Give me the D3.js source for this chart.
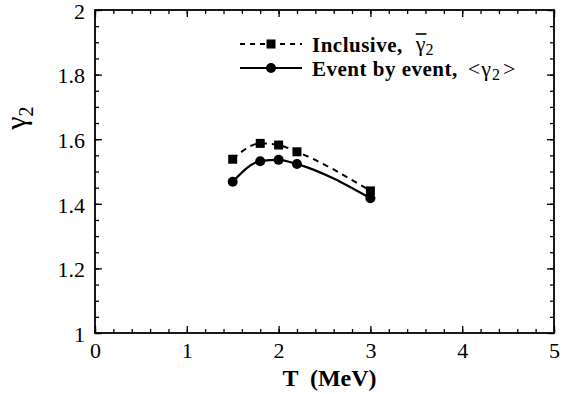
<!DOCTYPE html>
<html>
<head>
<meta charset="utf-8">
<script src="https://cdn.jsdelivr.net/npm/d3@7"></script>
<style>
  body { margin: 0; background: #fff; }
  svg text { font-family: "Liberation Serif", "Times New Roman", serif; fill: #000; }
</style>
</head>
<body>
<div id="chart"></div>
<script>
// data
const temps = [1.5, 1.8, 2.0, 2.2, 3.0];
const inclusive = [1.538, 1.587, 1.582, 1.561, 1.440];
const eventByEvent = [1.468, 1.532, 1.536, 1.523, 1.417];
const xTicks = [0, 1, 2, 3, 4, 5];
const yTicks = [1, 1.2, 1.4, 1.6, 1.8, 2];

const SERIF = "Liberation Serif, Times New Roman, serif";

const W = 563, H = 394;
const margin = {top: 10, right: 9, bottom: 61, left: 95};
const width = W - margin.left - margin.right;
const height = H - margin.top - margin.bottom;

const svg = d3.select("#chart").append("svg")
    .attr("width", W)
    .attr("height", H);

const g = svg.append("g")
    .attr("transform", "translate(" + margin.left + "," + margin.top + ")");

const x = d3.scaleLinear().domain([0, 5]).range([0, width]);
const y = d3.scaleLinear().domain([1, 2]).range([height, 0]);

// minor ticks
const xMinor = d3.range(0, 5.001, 0.2);
const yMinor = d3.range(1, 2.001, 0.05);

function tickStyle(sel) {
    sel.attr("font-family", SERIF);
    sel.select(".domain").remove();
    sel.selectAll(".tick line").attr("stroke", "#000").attr("stroke-width", 1.3);
}

// bottom
g.append("g").attr("transform", "translate(0," + height + ")")
    .call(d3.axisBottom(x).tickValues(xMinor).tickSize(-4).tickFormat(""))
    .call(tickStyle);
g.append("g").attr("transform", "translate(0," + height + ")")
    .call(d3.axisBottom(x).tickValues(xTicks).tickSize(-7).tickPadding(9).tickFormat(d3.format("d")))
    .call(tickStyle)
    .selectAll("text").attr("font-size", 22).attr("dy", "0.71em").attr("font-family", SERIF);
// top
g.append("g")
    .call(d3.axisTop(x).tickValues(xMinor).tickSize(-4).tickFormat(""))
    .call(tickStyle);
g.append("g")
    .call(d3.axisTop(x).tickValues(xTicks).tickSize(-7).tickFormat(""))
    .call(tickStyle);
// left
g.append("g")
    .call(d3.axisLeft(y).tickValues(yMinor).tickSize(-4).tickFormat(""))
    .call(tickStyle);
g.append("g")
    .call(d3.axisLeft(y).tickValues(yTicks).tickSize(-7).tickPadding(10).tickFormat(d => d === 1 || d === 2 ? d : d3.format(".1f")(d)))
    .call(tickStyle)
    .selectAll("text").attr("font-size", 22).attr("dy", "0.38em").attr("font-family", SERIF);
// right
g.append("g").attr("transform", "translate(" + width + ",0)")
    .call(d3.axisRight(y).tickValues(yMinor).tickSize(-4).tickFormat(""))
    .call(tickStyle);
g.append("g").attr("transform", "translate(" + width + ",0)")
    .call(d3.axisRight(y).tickValues(yTicks).tickSize(-7).tickFormat(""))
    .call(tickStyle);

// frame
g.append("rect")
    .attr("width", width)
    .attr("height", height)
    .attr("fill", "none")
    .attr("stroke", "#000")
    .attr("stroke-width", 1.8);

// lines
const line = d3.line()
    .x(d => x(d[0]))
    .y(d => y(d[1]))
    .curve(d3.curveMonotoneX);

const incData = temps.map((t, i) => [t, inclusive[i]]);
const evtData = temps.map((t, i) => [t, eventByEvent[i]]);

g.append("path").datum(incData)
    .attr("d", line)
    .attr("fill", "none")
    .attr("stroke", "#000")
    .attr("stroke-width", 2)
    .attr("stroke-dasharray", "6,5");

g.append("path").datum(evtData)
    .attr("d", line)
    .attr("fill", "none")
    .attr("stroke", "#000")
    .attr("stroke-width", 2.2);

g.selectAll(".sq").data(incData).enter().append("rect")
    .attr("class", "sq")
    .attr("x", d => x(d[0]) - 4.5)
    .attr("y", d => y(d[1]) - 4.5)
    .attr("width", 9)
    .attr("height", 9)
    .attr("fill", "#000");

g.selectAll(".dot").data(evtData).enter().append("circle")
    .attr("class", "dot")
    .attr("cx", d => x(d[0]))
    .attr("cy", d => y(d[1]))
    .attr("r", 5)
    .attr("fill", "#000");

// legend
const leg = svg.append("g");
leg.append("line").attr("x1", 240).attr("x2", 302).attr("y1", 44).attr("y2", 44)
    .attr("stroke", "#000").attr("stroke-width", 2).attr("stroke-dasharray", "5,5");
leg.append("rect").attr("x", 266.5).attr("y", 39.5).attr("width", 9).attr("height", 9).attr("fill", "#000");
leg.append("line").attr("x1", 240).attr("x2", 302).attr("y1", 68).attr("y2", 68)
    .attr("stroke", "#000").attr("stroke-width", 2);
leg.append("circle").attr("cx", 271).attr("cy", 68).attr("r", 5).attr("fill", "#000");

const t1 = leg.append("text").attr("x", 312).attr("y", 52).attr("font-size", 21)
    .attr("font-family", SERIF).attr("font-weight", "bold").attr("letter-spacing", 0.5);
const t1a = t1.append("tspan").text("Inclusive,");
const gx = 312 + t1a.node().getComputedTextLength() + 13;
const t1b = leg.append("text").attr("x", gx).attr("y", 51).attr("font-size", 22)
    .attr("font-family", SERIF);
const gam = t1b.append("tspan").text("γ");
t1b.append("tspan").attr("font-size", 16).attr("dy", 4).text("2");
const gw = gam.node().getComputedTextLength();
leg.append("line").attr("x1", gx).attr("x2", gx + gw + 1)
    .attr("y1", 34).attr("y2", 34).attr("stroke", "#000").attr("stroke-width", 1.6);

const t2 = leg.append("text").attr("x", 312).attr("y", 76).attr("font-size", 21)
    .attr("font-family", SERIF).attr("font-weight", "bold").attr("letter-spacing", 0.5);
const t2a = t2.append("tspan").text("Event by event,");
const ex = 312 + t2a.node().getComputedTextLength() + 10;
const t2b = leg.append("text").attr("x", ex).attr("y", 76).attr("font-size", 22)
    .attr("font-family", SERIF).attr("letter-spacing", 1);
t2b.append("tspan").text("<γ");
t2b.append("tspan").attr("font-size", 16).attr("dy", 4).text("2");
t2b.append("tspan").attr("dy", -4).attr("dx", 2).text(">");

// axis titles
svg.append("text")
    .attr("x", margin.left + width / 2 + 5)
    .attr("y", 386)
    .attr("text-anchor", "middle")
    .attr("font-size", 24)
    .attr("font-weight", "bold")
    .attr("font-family", SERIF)
    .attr("xml:space", "preserve")
    .text("T  (MeV)");

const yl = svg.append("text")
    .attr("transform", "translate(26,118) rotate(-90)")
    .attr("text-anchor", "middle")
    .attr("font-family", SERIF)
    .attr("font-size", 30);
yl.append("tspan").text("γ");
yl.append("tspan").attr("font-size", 20).attr("dy", 7).text("2");
</script>
</body>
</html>
